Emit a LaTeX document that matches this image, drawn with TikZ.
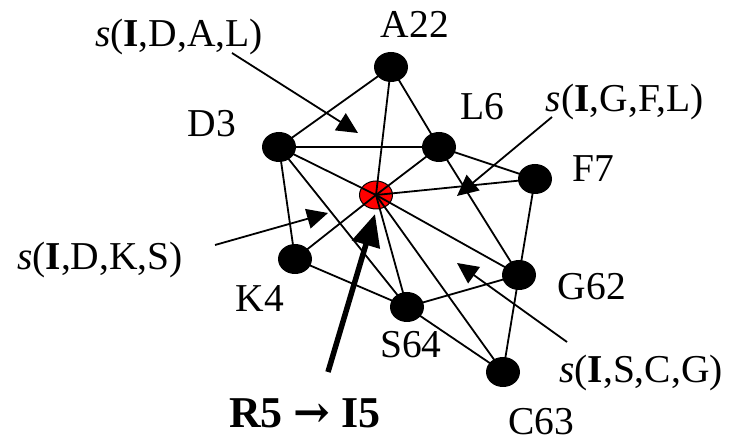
\documentclass[tikz,border=0pt]{standalone}
\usepackage{fontspec}
\setmainfont{Liberation Serif}
\newfontfamily\arrowfont{DejaVu Serif}
\usetikzlibrary{arrows.meta,shapes.geometric}
\begin{document}
\begin{tikzpicture}[x=1pt,y=-1pt,
  vert/.style={ellipse,fill=black,minimum width=34pt,minimum height=30pt,inner sep=0pt},
  hub/.style={ellipse,fill=red,draw=black,line width=1pt,minimum width=33pt,minimum height=28pt,inner sep=0pt},
  edge/.style={line width=1.8pt},
  lbl/.style={font=\fontsize{39.5}{42}\selectfont,anchor=base,inner sep=0pt},
  callout/.style={line width=1.8pt,-{Triangle[length=21pt,width=20pt]}},
  bigarrow/.style={line width=5.5pt,-{Triangle[length=32pt,width=28pt]}}]
\useasboundingbox (0,0) rectangle (734,443);

% vertices
\node[vert] (A) at (391,67) {};
\node[vert] (D) at (279,147) {};
\node[vert] (L) at (439,147) {};
\node[vert] (F) at (535,179) {};
\node[vert] (K) at (295,259) {};
\node[vert] (G) at (519,275) {};
\node[vert] (S) at (407,307) {};
\node[vert] (C) at (503,372) {};
\node[hub] (I) at (376,195) {};

% outer edges
\draw[edge] (A.center) -- (D.center);
\draw[edge] (A.center) -- (L.center);
\draw[edge] (D.center) -- (L.center);
\draw[edge] (L.center) -- (F.center);
\draw[edge] (D.center) -- (K.center);
\draw[edge] (D.center) -- (S.center);
\draw[edge] (L.center) -- (G.center);
\draw[edge] (F.center) -- (G.center);
\draw[edge] (K.center) -- (S.center);
\draw[edge] (S.center) -- (G.center);
\draw[edge] (S.center) -- (C.center);
\draw[edge] (G.center) -- (C.center);

% spokes into the hub
\foreach \v in {A,D,L,F,K,G,S,C}
  \draw[edge] (I.center) -- (\v.center);

% vertex labels
\node[lbl] (tA) at (415,38) {A22};
\node[lbl] (tD) at (212,137) {D3};
\node[lbl] (tL) at (482,120) {L6};
\node[lbl] (tF) at (593,182) {F7};
\node[lbl] (tK) at (260,312) {K4};
\node[lbl] (tG) at (592,300) {G62};
\node[lbl] (tS) at (411,358) {S64};
\node[lbl] (tC) at (541,435) {C63};

% simplex labels with callouts
\node[lbl] (sDAL) at (179,47) {\textit{s}(\textbf{I},D,A,L)};
\node[lbl] (sGFL) at (625,112) {\textit{s}(\textbf{I},G,F,L)};
\node[lbl] (sDKS) at (100,270) {\textit{s}(\textbf{I},D,K,S)};
\node[lbl] (sSCG) at (641,383) {\textit{s}(\textbf{I},S,C,G)};
\coordinate (pDAL) at (232,53);
\coordinate (qDAL) at (358,133);
\coordinate (pGFL) at (552,117);
\coordinate (qGFL) at (457,196);
\coordinate (pDKS) at (215,245);
\coordinate (qDKS) at (328,213);
\coordinate (pSCG) at (567,342);
\coordinate (qSCG) at (457,263);
\draw[callout] (pDAL) -- (qDAL);
\draw[callout] (pGFL) -- (qGFL);
\draw[callout] (pDKS) -- (qDKS);
\draw[callout] (pSCG) -- (qSCG);

% rule arrow
\coordinate (pR) at (328,372);
\coordinate (qR) at (375,214);
\draw[bigarrow] (pR) -- (qR);
\node[font=\fontsize{44}{46}\selectfont\bfseries,anchor=base,inner sep=0pt] (rule) at (305,428) {R5 {\arrowfont\bfseries →} I5};
\end{tikzpicture}
\end{document}
